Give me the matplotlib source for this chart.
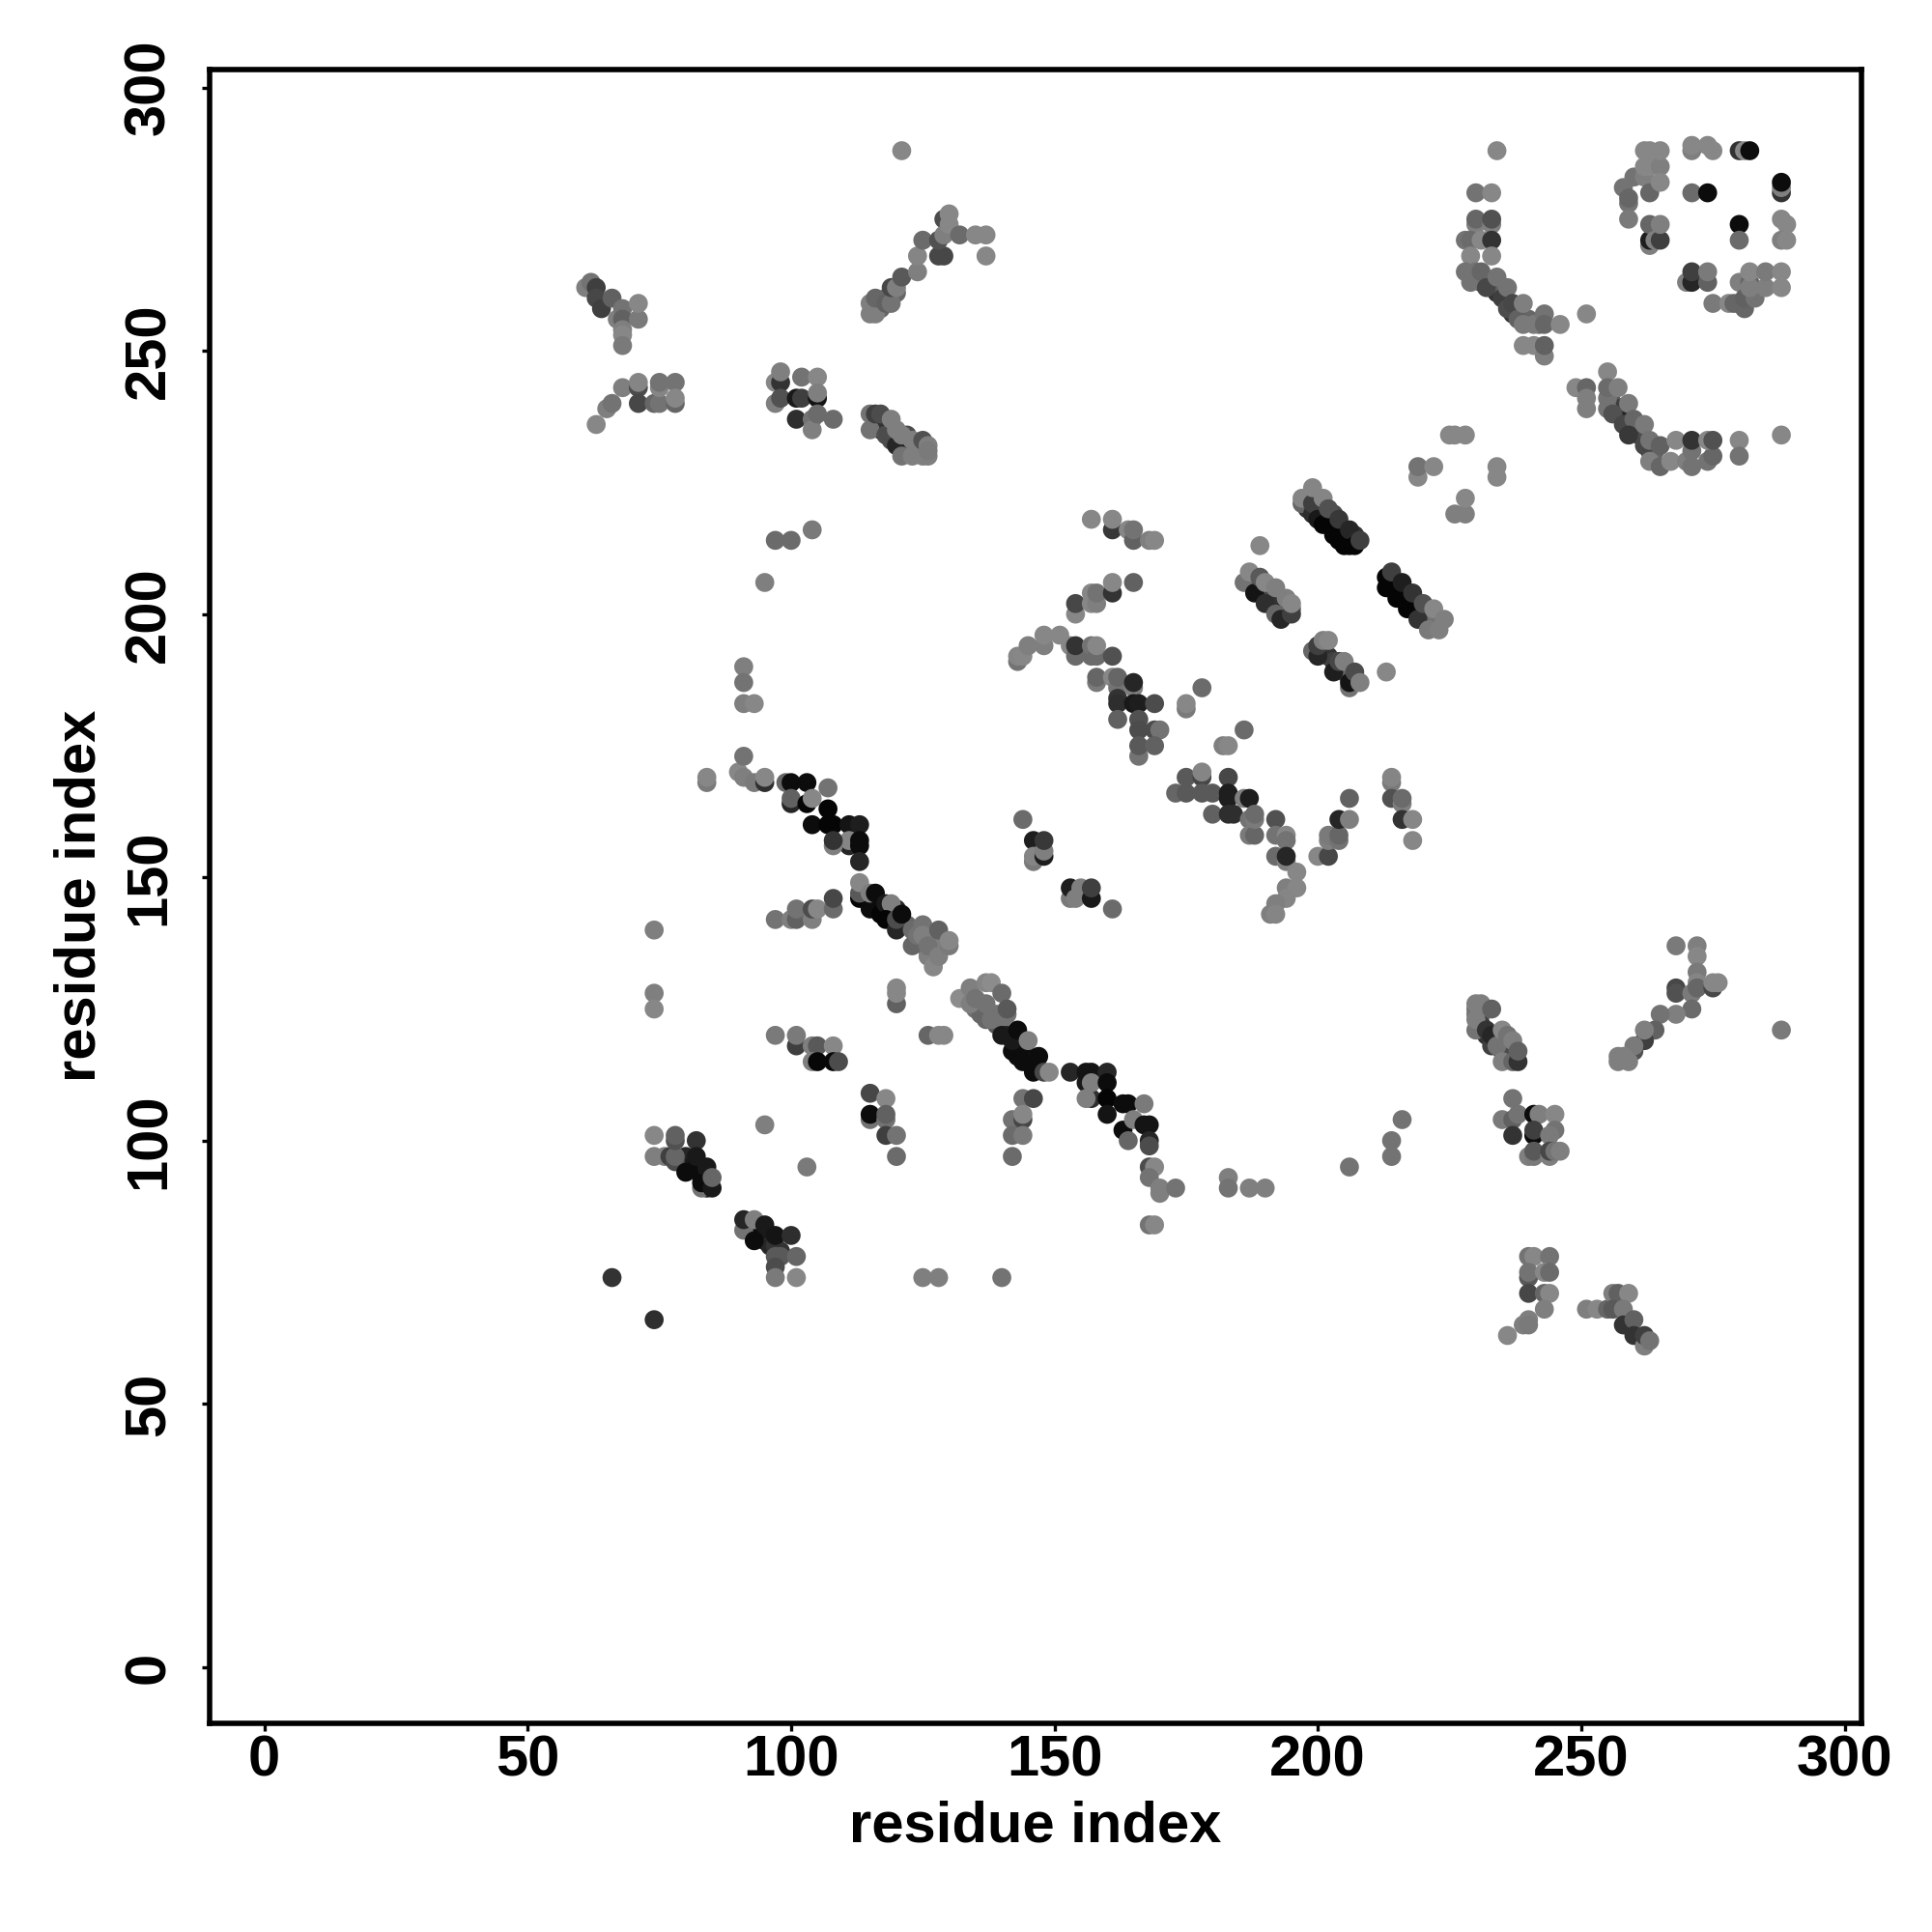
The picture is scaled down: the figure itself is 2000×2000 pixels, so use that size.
import numpy as np
import matplotlib
matplotlib.use("Agg")
import matplotlib.pyplot as plt

plt.rcParams['font.family'] = ['Liberation Sans', 'DejaVu Sans']

# contacts per cluster: (residue i, residue j, strength)
upper_left = [(61,262,.5),(62,263,.55),(63,262,.75),(63,260,.72),(64,258,.75),(66,260,.62),(67,256,.5),
              (68,258,.55),(68,256,.62),(71,256,.52),(71,259,.47),(68,254,.5),(68,253,.47),(68,251,.52)]
left_row = [(63,236,.47),(65,239,.5),(66,240,.55),(68,243,.5),(71,243,.7),(71,244,.48),(71,240,.72),(74,240,.6),
            (75,240,.55),(75,243,.48),(75,244,.55),(78,244,.55),(78,240,.6),(78,241,.47)]
block_100 = [(97,244,.47),(97,240,.5),(98,244,.8),(98,246,.5),(98,241,.68),(101,241,.9),(102,241,.75),(102,245,.55),
             (101,237,.82),(105,245,.47),(105,241,.92),(105,242,.5),(104,237,.55),(104,235,.5),(105,238,.58),(108,237,.58)]
row_214 = [(97,214,.58),(100,214,.58),(104,216,.52),(95,206,.5)]
band_core = [(116,236,.8),(117,235,.85),(118,236,.8),(119,235,.85),(122,232,.8),(122,234,.7),(124,232,.6),(124,231,.55),
             (117,258,.6),(118,260,.6),(117,259,.5),(120,261,.6),
             (231,263,.7),(233,262,.75),(234,261,.8),(235,262,.6),(237,257,.8),(238,258,.6),(240,256,.6),(242,255,.6),
             (256,240,.65),(257,239,.75),(258,238,.7),(259,237,.85),(260,235,.8),(261,234,.75),(262,233,.7),(263,231,.75),(264,231,.6),
             (198,220,.8),(200,221,.6),(200,219,.9),(202,217,.85),(203,219,.7),(205,216,.85),(207,215,.8),
             (214,206,.9),(215,205,.85),(216,204,.9),(217,203,.8),(218,202,.85),(219,201,.75),(220,200,.7),(221,199,.55),
             (187,206,.7),(188,206,.6),(189,205,.7),(190,204,.75),(191,203,.7),(192,202,.8),(193,201,.8),(194,201,.85),(195,201,.6),
             (201,193,.8),(202,192,.8),(203,191,.75),(204,190,.8),(205,189,.7),(206,189,.6),(207,188,.55),
             (114,146,.95),(116,145,.9),(117,145,.95),(119,143,.95),(120,144,.85),(122,141,.6),(124,140,.55),(126,139,.55),
             (127,138,.55),(128,137,.5),(129,137,.5),(126,136,.55),(128,136,.5),
             (135,125,.55),(136,124,.6),(139,124,.55),(139,122,.65),(140,123,.55),(141,120,.85),(143,118,.9),(144,118,.85),
             (145,116,.95),(143,116,.95),(146,115,.9),
             (230,125,.55),(230,124,.55),(231,124,.55),(231,122,.75),(232,120,.8),(233,119,.8),(234,120,.6),(235,117,.7),
             (236,117,.65),(236,116,.7),
             (79,96,.8),(80,97,.85),(81,95,.9),(82,95,.95),(83,93,.95),(84,93,.9),(84,91,.9),
             (92,84,.9),(92,83,.85),(94,82,.95),(95,81,.9),(96,80,.85),(97,80,.8),(98,79,.8)]
band_115 = [(115,235,.55),(115,238,.55),(116,238,.75),(117,238,.7),(118,234,.7),(119,233,.7),(120,232,.85),(121,232,.85),
            (121,230,.55),(123,230,.5),(125,230,.5),(126,230,.5),(119,237,.5),(120,235,.5),(121,234,.5),(123,233,.5),
            (125,233,.68),(126,232,.5),(126,231,.52),(121,288,.47)]
band_rising = [(115,257,.5),(116,257,.5),(115,259,.5),(116,260,.6),(118,259,.62),(119,259,.55),(119,262,.72),(120,262,.5),
               (121,264,.65),(124,265,.5),(124,268,.48),(125,271,.58),(128,268,.72),(129,268,.72),(128,271,.68),
               (129,275,.7),(129,272,.5),(130,276,.47),(130,274,.47),(132,272,.58),(135,272,.47),(137,272,.47),(137,268,.47)]
arc_upper = [(234,288,.47),(230,280,.55),(233,280,.47),(230,274,.5),(230,275,.6),(233,274,.5),(233,275,.68),(228,271,.55),
             (229,271,.58),(231,271,.47),(233,271,.8),(229,268,.47),(233,268,.47),(228,265,.55),(229,263,.55),(230,265,.55),
             (231,265,.6),(232,262,.72),(234,264,.55),(235,260,.75),(236,262,.55),(236,258,.7),(237,259,.72),(238,256,.62),
             (239,255,.52),(239,259,.5),(241,255,.52),(243,257,.55),(243,255,.6),(246,255,.47),(251,257,.47),
             (239,251,.47),(241,251,.47),(243,249,.5),(243,251,.62)]
arc_lower = [(255,246,.47),(249,243,.47),(251,243,.6),(251,241,.5),(251,239,.5),(255,239,.55),(255,241,.55),(255,243,.58),
             (257,243,.5),(256,238,.68),(258,236,.72),(259,240,.52),(260,237,.6),(259,234,.78),(262,236,.52),(262,232,.72),
             (263,233,.55),(265,232,.62),(263,229,.5),(265,228,.6),(267,229,.47),(268,233,.47),(270,229,.5),(271,228,.55),
             (271,231,.55),(271,233,.8),(274,229,.55),(275,230,.6),(274,233,.47),(275,233,.68),(280,233,.47),(280,230,.55),
             (288,234,.47)]
patch_top = [(258,281,.55),(259,278,.55),(259,279,.6),(259,275,.52),(260,283,.55),(262,283,.5),(263,280,.6),(262,285,.47),
             (263,285,.47),(265,285,.5),(262,288,.47),(263,288,.47),(265,288,.47),(265,282,.47),(263,270,.5),(263,271,.88),
             (263,274,.6),(264,271,.5),(265,271,.75),(265,274,.5),(271,288,.5),(271,289,.47),(274,289,.47),(275,288,.47),
             (280,288,.8),(281,288,.47),(282,288,.95),(271,280,.58),(274,280,.95),(288,280,.8),(288,281,.5),(288,282,.95),
             (280,274,.95),(280,271,.58),(288,275,.47),(289,274,.47),(288,271,.5),(289,271,.47)]
patch_right = [(270,263,.5),(271,263,.85),(271,265,.75),(274,263,.62),(274,265,.52),(275,259,.52),(278,259,.47),(279,259,.6),
               (280,263,.5),(281,258,.6),(281,260,.62),(283,260,.55),(282,263,.6),(282,262,.5),(282,265,.47),(285,262,.5),
               (285,265,.52),(288,262,.47),(288,265,.47)]
bits_222 = [(219,226,.47),(219,228,.55),(222,228,.47),(226,219,.5),(228,219,.5),(228,222,.47),(225,234,.47),(226,234,.47),
            (228,234,.47),(234,228,.47),(234,226,.47)]
arc_160 = [(157,218,.47),(161,216,.78),(161,218,.47),(164,216,.47),(165,214,.62),(165,216,.55),(168,214,.5),(169,214,.47),
           (154,200,.47),(154,202,.72),(157,202,.47),(157,204,.47),(158,202,.5),(158,204,.55),(161,204,.8),(161,206,.47),(165,206,.62)]
strand_143 = [(143,191,.55),(143,192,.48),(144,192,.47),(145,194,.5),(148,194,.5),(148,196,.47),(151,196,.47),(153,194,.47),
              (154,192,.58),(154,194,.8),(157,192,.58),(157,194,.55),(158,192,.58),(158,194,.47),(161,192,.68)]
strand_165 = [(158,187,.52),(158,188,.6),(161,188,.47),(162,186,.55),(162,188,.6),(165,186,.5),(165,187,.85),(162,184,.8),
              (162,183,.82),(165,183,.9),(166,183,.88),(169,183,.7),(162,180,.62),(166,180,.68),(166,178,.7),(169,178,.7),
              (170,178,.55),(166,173,.55),(166,175,.65),(169,175,.62),(175,182,.52),(175,183,.47),(178,186,.58),(186,178,.58),
              (182,175,.5),(183,175,.47)]
strand_175 = [(173,166,.6),(175,166,.65),(175,169,.65),(178,169,.72),(178,170,.48),(178,166,.65),(180,166,.65),(183,169,.72),
              (183,166,.88),(183,165,.88),(186,165,.5),(187,165,.88),(180,162,.62),(183,162,.82),(184,162,.82),(187,161,.55),
              (187,158,.52),(188,158,.6),(188,161,.52),(188,162,.58),(192,161,.68),(192,158,.55),(194,158,.47),(194,157,.55),
              (192,154,.58),(194,153,.5),(194,154,.85),(196,151,.47),(194,148,.5),(196,148,.47),(194,146,.48),(192,145,.5),
              (191,143,.5),(192,143,.48)]
branch_200 = [(200,154,.47),(202,154,.72),(202,157,.5),(202,158,.52),(204,157,.55),(204,158,.6),(204,161,.85),(206,161,.5),
              (206,165,.62),(214,168,.52),(214,169,.48),(214,165,.68),(216,164,.5),(216,165,.58),(216,161,.8),(218,161,.47),(218,157,.47)]
pair_146 = [(144,161,.58),(146,157,.88),(146,153,.52),(146,154,.48),(148,154,.88),(148,155,.5),(148,157,.78),
            (153,146,.52),(153,148,.88),(154,146,.5),(155,148,.5),(157,146,.9),(157,148,.75),(161,144,.58)]
sheet_a = [(197,221,.6),(197,222,.48),(199,219,.82),(199,221,.75),(199,224,.48),(200,218,.9),(201,217,.98),(201,222,.48),
           (202,220,.68),(203,215,.98),(204,214,.98),(204,218,.78),(205,213,.98),(206,213,.98),(206,216,.85),(207,213,.98),(208,214,.75)]
sheet_b = [(213,205,.98),(213,207,.98),(214,208,.75),(215,203,.98),(216,206,.88),(217,201,.98),(218,204,.8),(219,199,.8),
           (220,202,.68),(221,197,.52),(222,201,.47),(223,197,.5),(224,199,.5)]
sheet_c = [(186,206,.55),(187,208,.47),(188,204,.92),(189,207,.65),(190,202,.82),(190,206,.47),(192,200,.6),(192,205,.5),
           (193,199,.85),(194,203,.5),(195,200,.75),(195,202,.47),(189,213,.47)]
sheet_d = [(199,193,.6),(200,192,.85),(200,194,.75),(201,195,.5),(202,195,.47),(203,189,.88),(204,191,.72),(205,191,.5),
           (206,186,.55),(206,187,.92),(207,189,.7),(208,187,.5),(213,189,.47)]
helix_84 = [(84,168,.52),(84,169,.47),(90,170,.47),(91,169,.5),(91,173,.55),(91,190,.5),(91,187,.55),(91,183,.5),(93,183,.47),
            (93,168,.52),(95,168,.82),(95,169,.47),(99,168,.6),(100,168,.95),(103,168,.95),(100,164,.85),(100,165,.62),
            (103,164,.98),(104,165,.47),(107,163,.98),(107,167,.55),(104,160,.95),(107,160,.98),(108,160,.98),(111,160,.92),
            (113,160,.88),(111,156,.85),(111,157,.48),(108,156,.5),(108,157,.8),(113,156,.95),(113,157,.95),(113,153,.85)]
helix_113 = [(113,146,.98),(113,147,.65),(113,149,.47),(115,144,.95),(115,147,.5),(116,147,.95),(117,143,.98),(118,145,.9),
             (119,145,.5),(118,142,.98),(120,140,.85),(120,142,.7),(121,143,.95),(123,137,.6),(123,140,.58),(124,139,.55),
             (125,141,.55),(125,139,.5),(126,135,.5),(126,137,.55),(127,133,.47),(128,135,.5),(128,140,.62),(130,137,.52),(130,138,.47)]
row_142 = [(97,142,.55),(100,142,.5),(101,142,.62),(101,144,.55),(104,142,.5),(104,144,.7),(105,144,.47),(108,144,.58),(108,146,.72)]
helix_132 = [(132,127,.45),(134,126,.5),(134,129,.5),(135,127,.55),(137,123,.6),(137,126,.55),(137,130,.48),(138,130,.45),
             (138,123,.55),(140,120,.9),(140,128,.58),(141,124,.55),(141,125,.65),(142,117,.95),(142,119,.9),(143,121,.95),
             (145,119,.5),(144,115,.95),(147,116,.95),(146,113,.95),(148,113,.72),(149,113,.47)]
col_120 = [(120,126,.62),(120,128,.47),(120,129,.47),(74,128,.5),(74,125,.47),(74,140,.5),
           (126,120,.6),(128,120,.47),(129,120,.47)]
row_118 = [(97,120,.52),(101,118,.75),(101,120,.52),(104,118,.5),(105,118,.65),(108,118,.47),(104,115,.5),(105,115,.97),
           (108,115,.97),(109,115,.7)]
col_115 = [(115,109,.72),(115,104,.55),(115,105,.95),(118,108,.47),(118,104,.55),(118,105,.62),(118,101,.75),(120,101,.55),(120,97,.58)]
col_142 = [(144,108,.55),(146,108,.72),(142,104,.55),(144,104,.72),(144,105,.47),(142,101,.58),(144,101,.52),(142,97,.58)]
helix_153 = [(153,113,.85),(156,111,.9),(156,113,.92),(157,108,.82),(156,108,.5),(157,113,.92),(157,111,.5),(160,113,.85),
             (160,111,.95),(160,108,.98),(160,105,.92),(163,107,.95),(164,107,.95),(167,107,.52),(163,102,.95),(165,104,.5),
             (164,100,.6),(167,103,.92),(168,103,.92),(168,100,.85),(168,99,.7),(168,95,.7),(169,95,.47),(168,93,.55),
             (170,91,.5),(170,90,.5),(173,91,.55),(168,84,.55),(169,84,.47)]
helix_74 = [(74,101,.47),(74,97,.5),(76,97,.5),(77,97,.75),(78,96,.7),(78,97,.6),(78,100,.68),(78,101,.62),(80,94,.95),(82,100,.8),
            (82,97,.9),(83,91,.55),(83,92,.95),(84,95,.9),(85,91,.9),(85,93,.6),(95,103,.5),(103,95,.52)]
helix_91 = [(91,83,.55),(91,85,.85),(93,85,.5),(93,81,.95),(95,84,.9),(97,82,.92),(100,82,.82),(97,78,.65),(98,78,.65),(101,78,.6),
            (97,76,.7),(97,74,.52),(101,74,.47),(125,74,.5),(128,74,.5),(140,74,.55),(66,74,.8),(74,66,.82)]
row_91 = [(183,93,.5),(183,91,.55),(187,91,.5),(190,91,.5),(206,95,.55),(214,100,.55),(214,97,.55),(216,104,.55),(288,121,.52)]
lower_230 = [(230,121,.55),(230,123,.5),(230,126,.5),(231,126,.5),(232,121,.8),(233,118,.75),(233,120,.85),(233,125,.62),
             (234,118,.55),(235,115,.5),(235,121,.47),(236,120,.55),(237,115,.6),(237,119,.5),(238,115,.8),(238,117,.62)]
rising_257 = [(268,137,.52),(272,137,.5),(272,135,.47),(272,132,.52),(272,130,.48),(268,129,.72),(268,128,.68),(271,128,.52),
              (272,129,.6),(275,129,.72),(275,130,.47),(276,130,.47),(271,125,.58),(268,124,.5),(265,124,.55),(264,121,.62),
              (262,119,.75),(262,121,.5),(260,117,.68),(260,118,.52),(258,116,.5),(257,115,.5),(257,116,.5),(259,115,.5)]
block_240 = [(237,108,.55),(235,104,.52),(237,104,.62),(238,105,.55),(241,105,.95),(242,105,.5),(245,105,.47),(237,101,.8),
             (241,101,.95),(241,102,.75),(245,102,.55),(244,101,.52),(240,97,.5),(241,97,.52),(241,98,.65),(244,97,.5),
             (244,98,.72),(245,98,.55),(246,98,.5)]
col_240 = [(240,78,.55),(241,78,.47),(244,78,.55),(240,74,.65),(240,75,.55),(243,75,.47),(244,75,.58),(240,71,.72),(243,71,.6),
           (244,71,.47),(243,68,.5),(240,66,.5),(239,65,.5),(240,65,.52),(236,63,.47)]
tail_255 = [(251,68,.5),(253,68,.47),(255,68,.6),(256,71,.5),(257,71,.62),(259,71,.47),(256,68,.65),(258,68,.52),(258,65,.8),
            (260,66,.62),(260,63,.8),(262,61,.5),(262,63,.75),(263,62,.55)]

clusters = [band_core, upper_left, left_row, block_100, row_214, band_115, band_rising, arc_upper, arc_lower, patch_top, patch_right,
            bits_222, arc_160, strand_143, strand_165, strand_175, branch_200, pair_146, sheet_a, sheet_b, sheet_c, sheet_d,
            helix_84, helix_113, row_142, helix_132, col_120, row_118, col_115, col_142, helix_153, helix_74, helix_91,
            row_91, lower_230, rising_257, block_240, col_240, tail_255]
ticks = [0, 50, 100, 150, 200, 250, 300]

contacts = np.array([c for cl in clusters for c in cl])

fig = plt.figure(figsize=(10, 10), dpi=200)
ax = fig.add_axes([216.7/2000, 1 - 1783.7/2000, (1927.5 - 216.7)/2000, (1783.7 - 71.5)/2000])

ax.scatter(contacts[:, 0], contacts[:, 1], c=contacts[:, 2], cmap='gray_r', vmin=0, vmax=1,
           s=50, linewidths=0)

ax.set_xlim(-10.45, 303.3)
ax.set_ylim(-10.6, 303.5)
ax.set_xticks(ticks)
ax.set_yticks(ticks)
ax.tick_params(axis='x', length=2.9, width=1.2, pad=1.5, labelsize=21.5)
ax.tick_params(axis='y', length=2.9, width=1.2, pad=9.5, labelsize=21.5)
for lab in ax.get_xticklabels() + ax.get_yticklabels():
    lab.set_fontweight('bold')
for lab in ax.get_yticklabels():
    lab.set_rotation(90)
    lab.set_va('center')
for sp in ax.spines.values():
    sp.set_linewidth(2.0)

ax.set_xlabel("residue index", fontsize=21.5, fontweight='bold', labelpad=4.7)
ax.set_ylabel("residue index", fontsize=21.5, fontweight='bold', labelpad=6)

fig.savefig("out.png", dpi=200)
